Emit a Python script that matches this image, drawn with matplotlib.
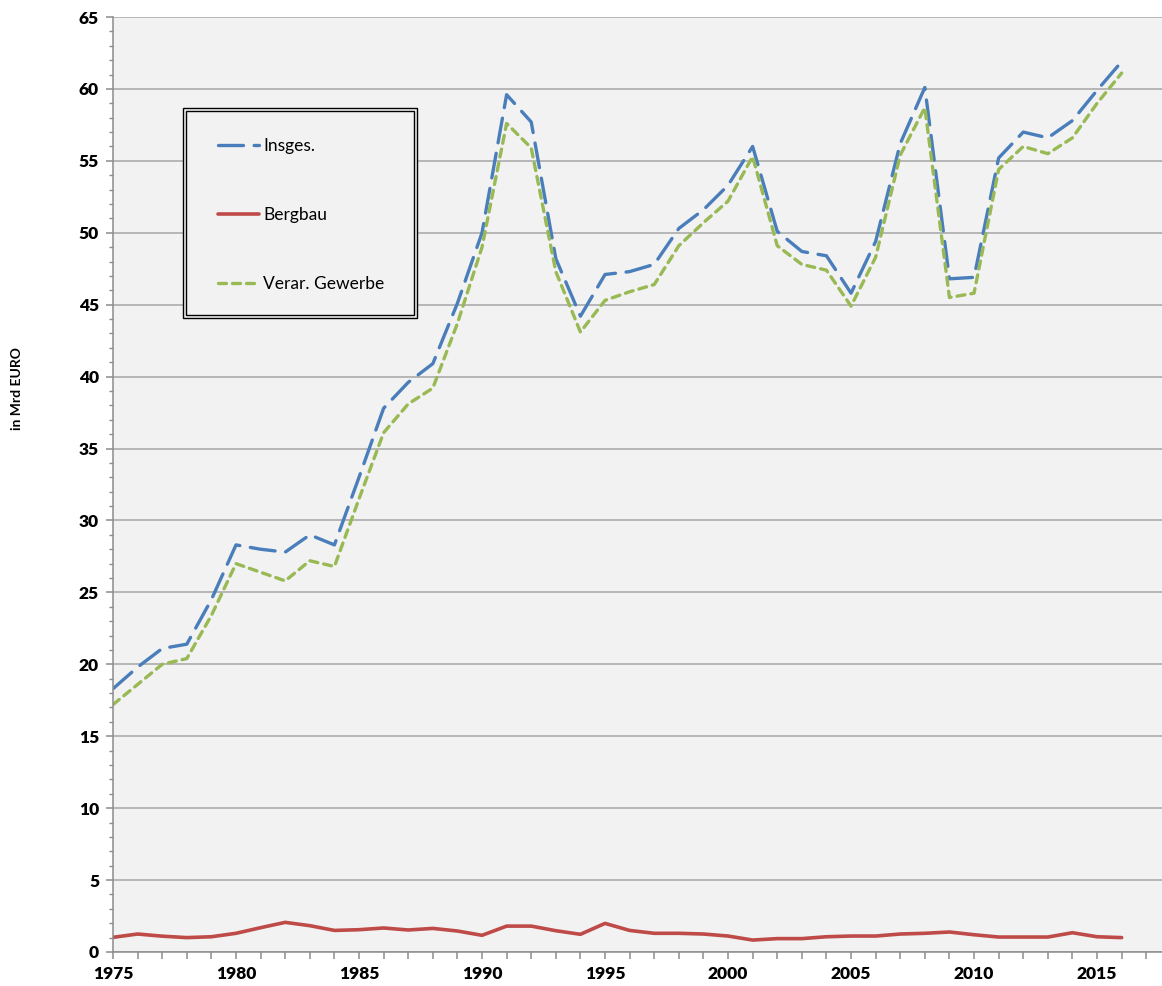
import matplotlib
matplotlib.use("Agg")
import matplotlib.pyplot as plt
from matplotlib.patches import Rectangle
from matplotlib.ticker import MultipleLocator

plt.rcParams['font.family'] = ['Lato', 'DejaVu Sans']

years = list(range(1975, 2017))
insges = [18.3, 19.8, 21.1, 21.4, 24.5, 28.3, 28.0, 27.8, 29.0, 28.3,
          33.0, 37.8, 39.6, 40.9, 45.1, 50.0, 59.6, 57.7, 48.2, 44.2,
          47.1, 47.3, 47.8, 50.3, 51.6, 53.3, 56.0, 50.1, 48.7, 48.4,
          45.8, 49.4, 56.2, 60.1, 46.8, 46.9, 55.2, 57.0, 56.6, 57.8,
          59.9, 61.9]
bergbau = [1.02, 1.25, 1.1, 1.0, 1.06, 1.3, 1.69, 2.06, 1.83, 1.5,
           1.55, 1.67, 1.53, 1.64, 1.46, 1.16, 1.8, 1.8, 1.48, 1.23,
           1.99, 1.5, 1.3, 1.3, 1.25, 1.11, 0.83, 0.93, 0.93, 1.06,
           1.11, 1.11, 1.25, 1.3, 1.39, 1.2, 1.04, 1.04, 1.04, 1.34,
           1.06, 1.0]
verar = [17.2, 18.6, 20.0, 20.4, 23.4, 27.0, 26.4, 25.8, 27.2, 26.8,
         31.5, 36.1, 38.1, 39.2, 43.7, 49.0, 57.6, 55.9, 47.3, 43.1,
         45.3, 45.9, 46.4, 49.1, 50.7, 52.2, 55.3, 49.1, 47.8, 47.4,
         44.9, 48.3, 55.4, 58.7, 45.5, 45.8, 54.4, 56.0, 55.5, 56.6,
         59.0, 61.1]
series_labels = ["Insges.", "Bergbau", "Verar. Gewerbe"]
x_tick_labels = ["1975", "1980", "1985", "1990", "1995", "2000", "2005", "2010", "2015"]
y_label = "in Mrd EURO"

W, H = 1162, 986
fig = plt.figure(figsize=(W / 100, H / 100), dpi=100)
fig.patch.set_facecolor('white')
ax = fig.add_axes([113 / W, (H - 952) / H, (W - 113) / W, (952 - 17) / H])
ax.set_facecolor('#F2F2F2')

lw = 2.4
l1, = ax.plot(years, insges, color='#4A7EBB', lw=lw, dashes=(7.5, 3.2),
              solid_capstyle='round', dash_capstyle='round')
l2, = ax.plot(years, bergbau, color='#BE4B48', lw=2.6, solid_capstyle='round')
l3, = ax.plot(years, verar, color='#98B954', lw=lw, dashes=(2.4, 1.8),
              dash_capstyle='round')

ax.set_xlim(1975, 2017.64)
ax.set_ylim(0, 65)
ax.set_xticks([int(t) for t in x_tick_labels])
ax.set_xticklabels(x_tick_labels)
ax.xaxis.set_minor_locator(MultipleLocator(1))
ax.yaxis.set_major_locator(MultipleLocator(5))
ax.yaxis.set_minor_locator(MultipleLocator(1))

ax.grid(axis='y', which='major', color='#A6A6A6', lw=1.1)
ax.set_axisbelow(True)
for s in ['top', 'right']:
    ax.spines[s].set_visible(False)
for s in ['left', 'bottom']:
    ax.spines[s].set_color('#8C8C8C')
    ax.spines[s].set_linewidth(1.1)

ax.tick_params(axis='x', which='both', length=5, width=1.1, color='#8C8C8C',
               direction='out', pad=5)
ax.tick_params(axis='y', which='major', length=5, width=1.1, color='#8C8C8C',
               direction='out', pad=5)
ax.tick_params(axis='y', which='minor', length=3, width=1.0, color='#8C8C8C',
               direction='out')
for lab in ax.get_xticklabels() + ax.get_yticklabels():
    lab.set_fontsize(12.5)
    lab.set_fontweight('heavy')

fig.text(17 / W, 1 - 389 / H, y_label, rotation=90, ha='center', va='center',
         fontsize=10, fontweight='bold')

# legend frame (double border)
fig.patches.append(Rectangle((183 / W, 1 - 318 / H), (417 - 183) / W, (318 - 108) / H,
                             transform=fig.transFigure, fill=True, facecolor='#F2F2F2',
                             edgecolor='black', lw=1.0, zorder=5))
fig.patches.append(Rectangle((186 / W, 1 - 315 / H), (414 - 186) / W, (315 - 111) / H,
                             transform=fig.transFigure, fill=False,
                             edgecolor='black', lw=1.0, zorder=5))
leg = fig.legend([l1, l2, l3], series_labels, loc='upper left',
                 bbox_to_anchor=(218 / W, 1 - 138 / H), frameon=False,
                 fontsize=12.5, handlelength=2.35, handletextpad=0.25,
                 labelspacing=3.05, borderpad=0, borderaxespad=0)
leg.set_zorder(6)

fig.savefig('out.png', dpi=100, facecolor='white')
